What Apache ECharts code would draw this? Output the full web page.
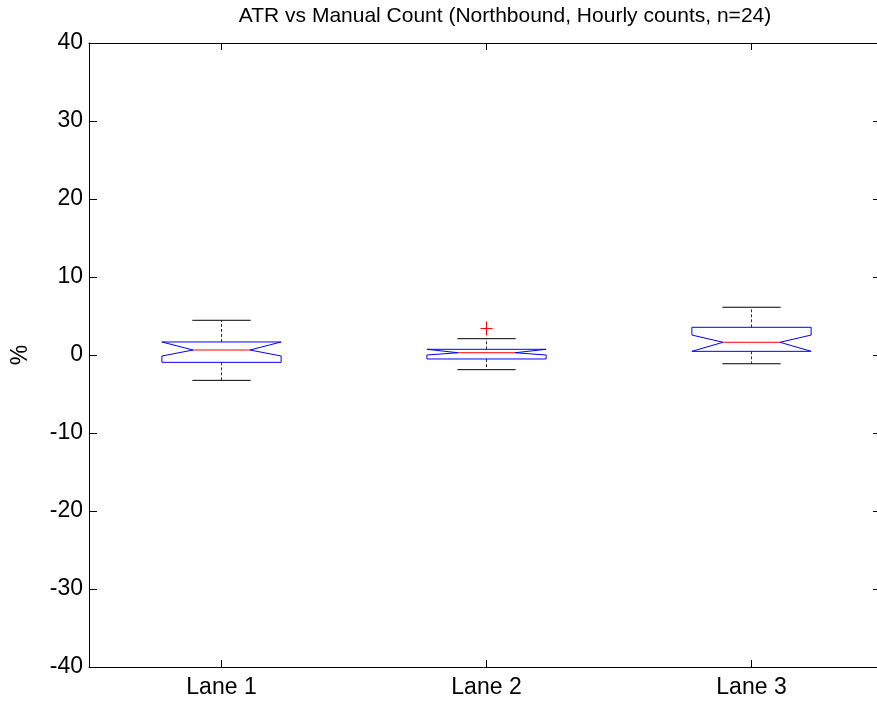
<!DOCTYPE html>
<html>
<head>
<meta charset="utf-8">
<script src="https://cdn.jsdelivr.net/npm/echarts@6/dist/echarts.min.js"></script>
<style>html,body{margin:0;padding:0;background:#fff;overflow:hidden;}#c{width:877px;height:703px;}</style>
</head>
<body>
<div id="c"></div>
<script>
var categories = ['Lane 1', 'Lane 2', 'Lane 3'];
// per lane: lower whisker, Q1, notch low, median, notch high, Q3, upper whisker
var whiskerLow  = [-3.25, -1.88, -1.12];
var q1          = [-0.94, -0.51,  0.47];
var notchLow    = [-0.13,  0.00,  0.47];
var median      = [ 0.64,  0.29,  1.63];
var notchHigh   = [ 1.67,  0.73,  2.56];
var q3          = [ 1.67,  0.73,  3.55];
var whiskerHigh = [ 4.45,  2.09,  6.12];
var outlierLane = [1];
var outlierValue = [3.4];
var yTicks = [-40, -30, -20, -10, 0, 10, 20, 30, 40];
var titleText = 'ATR vs Manual Count (Northbound, Hourly counts, n=24)';

var boxData = categories.map(function (c, i) {
  return [i, whiskerLow[i], q1[i], notchLow[i], median[i], notchHigh[i], q3[i], whiskerHigh[i]];
});
var outData = outlierLane.map(function (l, i) { return [l, outlierValue[i]]; });

var FONT = 'Liberation Sans, Arial, sans-serif';
var chart = echarts.init(document.getElementById('c'), null, {renderer: 'canvas'});

function renderBox(params, api) {
  var ci = api.value(0);
  var bw = api.size([1, 0])[0];
  var cx = api.coord([ci, 0])[0];
  function Y(v) { return api.coord([ci, v])[1]; }
  var hb = bw * 0.45 / 2, hn = bw * 0.215 / 2, hc = bw * 0.22 / 2;
  var yWL = Y(api.value(1)), yQ1 = Y(api.value(2)), yNL = Y(api.value(3)),
      yMed = Y(api.value(4)), yNH = Y(api.value(5)), yQ3 = Y(api.value(6)), yWH = Y(api.value(7));
  var L = cx - hb, R = cx + hb;
  var pts = [[L, yQ3], [R, yQ3], [R, yNH], [cx + hn, yMed], [R, yNL], [R, yQ1],
             [L, yQ1], [L, yNL], [cx - hn, yMed], [L, yNH]];
  var dash = {stroke: '#333', lineWidth: 1, lineDash: [3, 2]};
  var solid = {stroke: '#000', lineWidth: 1};
  return {
    type: 'group',
    children: [
      {type: 'line', shape: {x1: cx, y1: yQ3, x2: cx, y2: yWH}, style: dash},
      {type: 'line', shape: {x1: cx, y1: yQ1, x2: cx, y2: yWL}, style: dash},
      {type: 'line', shape: {x1: cx - hc, y1: yWH, x2: cx + hc, y2: yWH}, style: solid},
      {type: 'line', shape: {x1: cx - hc, y1: yWL, x2: cx + hc, y2: yWL}, style: solid},
      {type: 'polygon', shape: {points: pts}, style: {fill: null, stroke: '#0000ff', lineWidth: 1}},
      {type: 'line', shape: {x1: cx - hn, y1: yMed, x2: cx + hn, y2: yMed}, style: {stroke: '#ff0000', lineWidth: 1}}
    ]
  };
}

function renderOutlier(params, api) {
  var p = api.coord([api.value(0), api.value(1)]);
  var s = 6;
  return {
    type: 'group',
    children: [
      {type: 'line', shape: {x1: p[0] - s, y1: p[1], x2: p[0] + s, y2: p[1]}, style: {stroke: '#ff0000', lineWidth: 1}},
      {type: 'line', shape: {x1: p[0], y1: p[1] - s - 1, x2: p[0], y2: p[1] + s + 1}, style: {stroke: '#ff0000', lineWidth: 1}}
    ]
  };
}

var option = {
  animation: false,
  backgroundColor: '#fff',
  title: {
    text: titleText,
    left: 500, top: 1, textAlign: 'center',
    textStyle: {fontFamily: FONT, fontSize: 21, fontWeight: 'normal', color: '#000'}
  },
  grid: {left: 89, top: 43, width: 795, height: 624, containLabel: false, outerBoundsMode: 'none'},
  xAxis: [{
    type: 'category', data: categories, position: 'bottom',
    axisLine: {onZero: false, lineStyle: {color: '#000', width: 1}},
    axisTick: {show: true, inside: true, alignWithLabel: true, length: 7, lineStyle: {color: '#000'}},
    axisLabel: {fontFamily: FONT, fontSize: 23, color: '#000', margin: 9},
    splitLine: {show: false}
  }, {
    type: 'category', data: categories, position: 'top',
    axisLine: {onZero: false, lineStyle: {color: '#000', width: 1}},
    axisTick: {show: true, inside: true, alignWithLabel: true, length: 7, lineStyle: {color: '#000'}},
    axisLabel: {show: false},
    splitLine: {show: false}
  }],
  yAxis: [{
    type: 'value', min: -40, max: 40, interval: 10, position: 'left',
    name: '%', nameLocation: 'middle', nameGap: 57, nameRotate: 90,
    nameTextStyle: {fontFamily: FONT, fontSize: 23, color: '#000'},
    axisLine: {show: true, onZero: false, lineStyle: {color: '#000', width: 1}},
    axisTick: {show: true, inside: true, length: 8, lineStyle: {color: '#000'}},
    axisLabel: {fontFamily: FONT, fontSize: 23, color: '#000', margin: 6,
      formatter: function (v) { return yTicks.indexOf(v) >= 0 ? String(v) : ''; }},
    splitLine: {show: false}
  }, {
    type: 'value', min: -40, max: 40, interval: 10, position: 'right', offset: -5,
    axisLine: {show: false, onZero: false},
    axisTick: {show: true, inside: true, length: 6, lineStyle: {color: '#000'}},
    axisLabel: {show: false},
    splitLine: {show: false}
  }],
  series: [{
    type: 'custom', renderItem: renderBox, data: boxData,
    encode: {x: 0, y: [1, 2, 3, 4, 5, 6, 7]}, xAxisIndex: 0, yAxisIndex: 0, clip: false
  }, {
    type: 'custom', renderItem: renderOutlier, data: outData,
    encode: {x: 0, y: 1}, xAxisIndex: 0, yAxisIndex: 0
  }]
};
chart.setOption(option);
</script>
</body>
</html>
